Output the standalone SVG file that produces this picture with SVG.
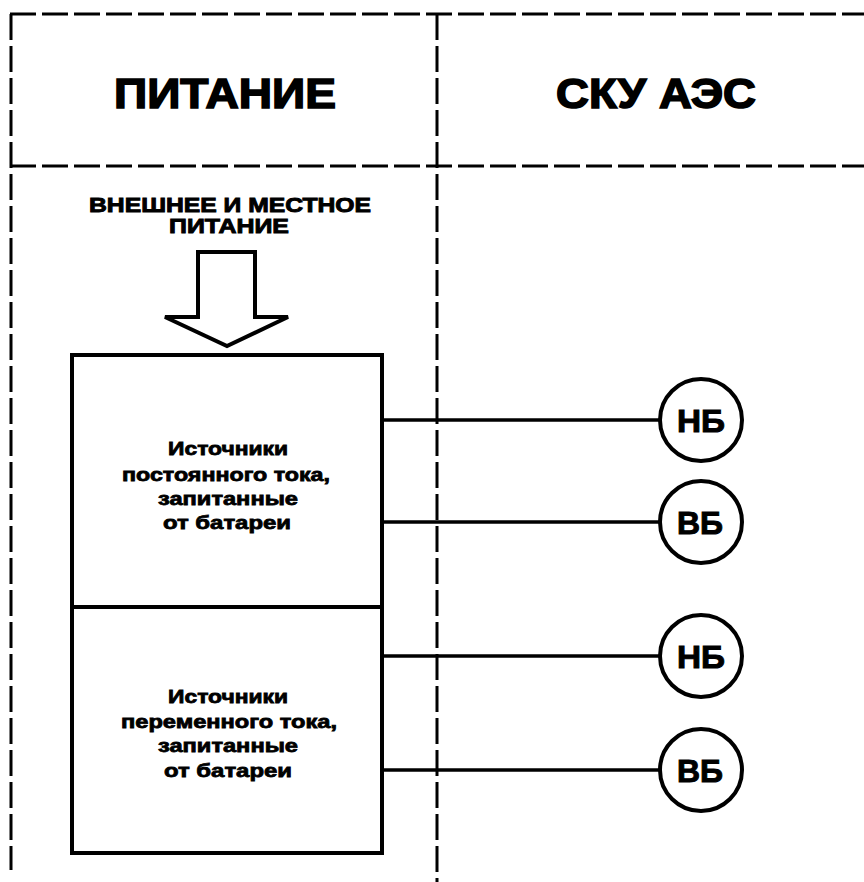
<svg xmlns="http://www.w3.org/2000/svg" width="864" height="882" viewBox="0 0 864 882">
<style>
.grid{stroke:#000;stroke-width:3;fill:none;stroke-dasharray:26 6}
.box{stroke:#000;stroke-width:4;fill:#fff}
.conn{stroke:#000;stroke-width:3.5;fill:none}
.t{font-family:"Liberation Sans",Arial,sans-serif;font-weight:bold;fill:#000;stroke:#000;text-anchor:middle}
.h{font-size:42px;stroke-width:1.6}
.s{font-size:20px;stroke-width:0.9}
.b{font-size:19px;stroke-width:0.8}
.c{font-size:32px;stroke-width:1}
</style>
<rect width="864" height="882" fill="#fff"/>
<g id="grid">
<line class="grid" x1="10" y1="14" x2="864" y2="14"/>
<line class="grid" x1="10" y1="166" x2="864" y2="166"/>
<line class="grid" x1="11" y1="14" x2="11" y2="870"/>
<line class="grid" x1="437" y1="14" x2="437" y2="882"/>
</g>
<g id="header-power"><text class="t h" x="225" y="108" textLength="222" lengthAdjust="spacingAndGlyphs">ПИТАНИЕ</text></g>
<g id="header-sku"><text class="t h" x="656" y="108" textLength="200" lengthAdjust="spacingAndGlyphs">СКУ АЭС</text></g>
<g id="ext-power">
<text class="t s" x="230" y="212" textLength="282" lengthAdjust="spacingAndGlyphs">ВНЕШНЕЕ И МЕСТНОЕ</text>
<text class="t s" x="229" y="233" textLength="120" lengthAdjust="spacingAndGlyphs">ПИТАНИЕ</text>
<path d="M198 252 H255 V317 H288 L227 346 L165 317 H198 Z" fill="#fff" stroke="#000" stroke-width="4" stroke-linejoin="miter"/>
</g>
<g id="connectors">
<line class="conn" x1="382" y1="420" x2="659" y2="420"/>
<line class="conn" x1="382" y1="522" x2="659" y2="522"/>
<line class="conn" x1="382" y1="656" x2="659" y2="656"/>
<line class="conn" x1="382" y1="770" x2="659" y2="770"/>
</g>
<g id="dc-sources">
<rect class="box" x="72" y="355" width="310" height="252"/>
<text class="t b" x="228" y="455" textLength="120" lengthAdjust="spacingAndGlyphs">Источники</text>
<text class="t b" x="226" y="481" textLength="208" lengthAdjust="spacingAndGlyphs">постоянного тока,</text>
<text class="t b" x="228" y="505" textLength="140" lengthAdjust="spacingAndGlyphs">запитанные</text>
<text class="t b" x="227" y="529" textLength="128" lengthAdjust="spacingAndGlyphs">от батареи</text>
</g>
<g id="ac-sources">
<rect class="box" x="72" y="607" width="310" height="246"/>
<text class="t b" x="228" y="703" textLength="120" lengthAdjust="spacingAndGlyphs">Источники</text>
<text class="t b" x="229" y="728" textLength="216" lengthAdjust="spacingAndGlyphs">переменного тока,</text>
<text class="t b" x="228" y="752" textLength="140" lengthAdjust="spacingAndGlyphs">запитанные</text>
<text class="t b" x="228" y="777" textLength="128" lengthAdjust="spacingAndGlyphs">от батареи</text>
</g>
<g id="nb1"><circle class="box" cx="701" cy="420" r="41"/><text class="t c" x="701" y="432" textLength="48" lengthAdjust="spacingAndGlyphs">НБ</text></g>
<g id="vb1"><circle class="box" cx="701" cy="522" r="41"/><text class="t c" x="700" y="534" textLength="46" lengthAdjust="spacingAndGlyphs">ВБ</text></g>
<g id="nb2"><circle class="box" cx="701" cy="656" r="41"/><text class="t c" x="701" y="668" textLength="48" lengthAdjust="spacingAndGlyphs">НБ</text></g>
<g id="vb2"><circle class="box" cx="701" cy="770" r="41"/><text class="t c" x="700" y="782" textLength="46" lengthAdjust="spacingAndGlyphs">ВБ</text></g>
</svg>
